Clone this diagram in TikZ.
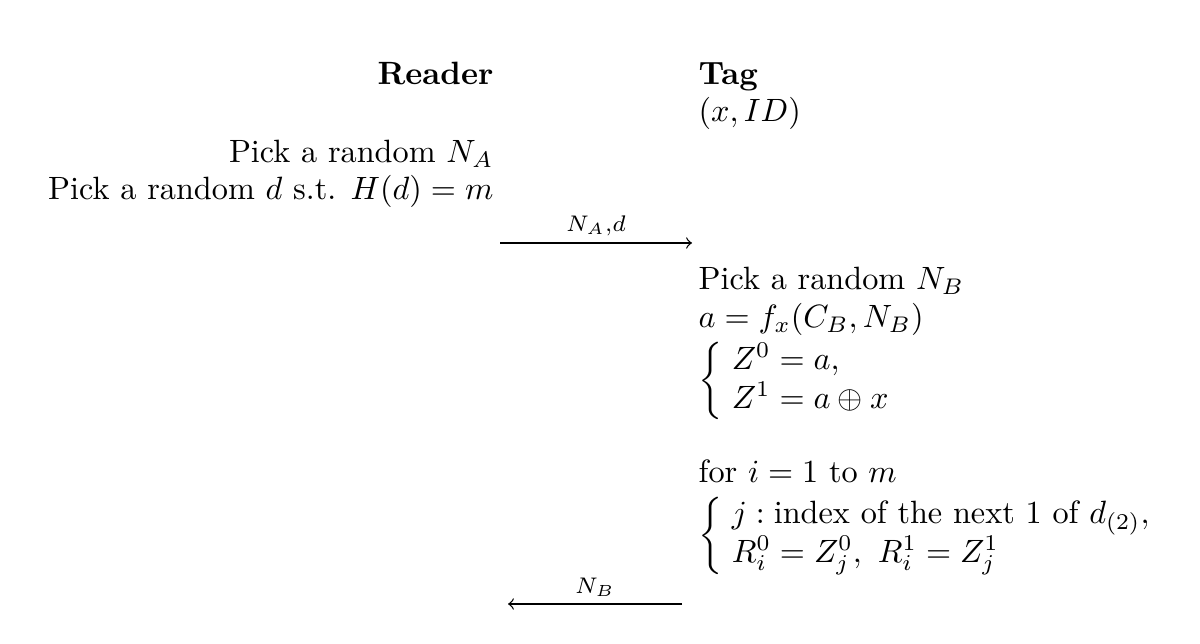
\documentclass[tikz,border=0pt]{standalone}
\usepackage{amsmath}
\usepackage{amssymb}
\usepackage{tikz}
\usetikzlibrary{arrows,positioning}

\begin{document}
\begin{tikzpicture}[x=0.01089cm,y=-0.01089cm,
  rd/.style={anchor=base east,inner sep=0pt},
  tg/.style={anchor=base west,inner sep=0pt},
  msg/.style={->}]
            \useasboundingbox (0,0) rectangle (1200,644);
            % reader side
            \node[rd] (reader) at (494,85) {\textbf{Reader}};
            \node[rd] (pickna) at (494,163) {Pick a random $N_A$};
            \node[rd] (pickd) at (494,200) {Pick a random $d$ s.t. $H(d)=m$};
            % tag side
            \node[tg] (tag) at (698,85) {\textbf{Tag}};
            \node[tg] (secret) at (698,122) {$(x,ID)$};
            \node[tg] (picknb) at (698,290) {Pick a random $N_B$};
            \node[tg] (fa) at (698,328) {$a=f_x(C_B,N_B)$};
            \node[tg] (zz) at (698,389) {$\left\{\begin{array}{@{\;}l}Z^0=a,\\ Z^1=a\oplus x\end{array}\right.$};
            \node[tg] (loop) at (698,483) {for $i=1$ to $m$};
            \node[tg] (rr) at (698,544) {$\left\{\begin{array}{@{\;}l}j:\text{index of the next 1 of }d_{(2)},\\ R_i^0=Z_j^0,\ R_i^1=Z_j^1\end{array}\right.$};
            % messages
            \coordinate (m1s) at (500,243);
            \coordinate (m1e) at (692,243);
            \draw[msg] (m1s) -- node[above,inner sep=2pt] {$\scriptstyle N_A,d$} (m1e);
            \coordinate (m2s) at (682,604);
            \coordinate (m2e) at (508,604);
            \draw[msg] (m2s) -- node[above,inner sep=2pt] {$\scriptstyle N_B$} (m2e);
        \end{tikzpicture}
\end{document}
